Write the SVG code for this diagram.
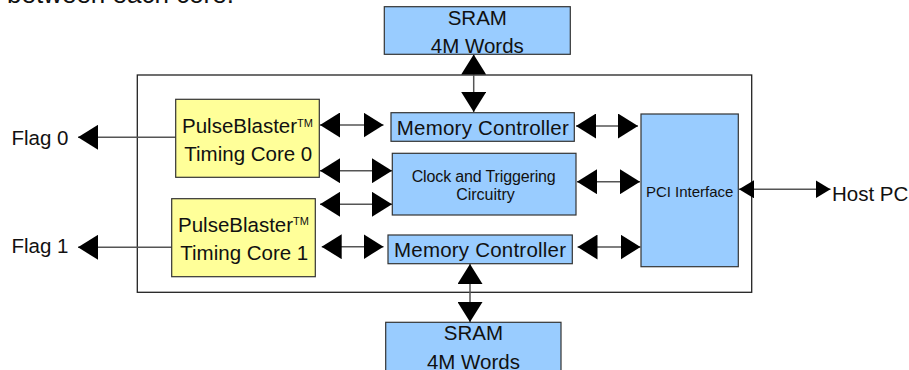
<svg xmlns="http://www.w3.org/2000/svg" width="909" height="370" viewBox="0 0 909 370">
<style>
  text { font-family: "Liberation Sans", Arial, sans-serif; fill: #111; }
  .blue { fill: #99ccff; stroke: #333; stroke-width: 1.2; }
  .yellow { fill: #ffff99; stroke: #333; stroke-width: 1.2; }
  .frame { fill: #fff; stroke: #222; stroke-width: 1.3; }
  .conn { stroke: #555; stroke-width: 1.5; fill: none; }
  .big { font-size: 20.5px; }
  .mid { font-size: 15px; }
  .tm { font-size: 11px; }
</style>
<defs>
  <marker id="ah" markerUnits="userSpaceOnUse" markerWidth="20" markerHeight="25" refX="20" refY="12.5" orient="auto-start-reverse" viewBox="0 0 20 25">
    <path d="M0,0 L20,12.5 L0,25 z" fill="#000"/>
  </marker>
  <marker id="ahs" markerUnits="userSpaceOnUse" markerWidth="15" markerHeight="18" refX="15" refY="9" orient="auto-start-reverse" viewBox="0 0 15 18">
    <path d="M0,0 L15,9 L0,18 z" fill="#000"/>
  </marker>
</defs>
<rect width="909" height="370" fill="#fff"/>
<text x="7" y="3.3" style="font-size:26px">between each core.</text>

<g id="frame"><rect class="frame" x="137.3" y="75" width="614.4" height="217.3"/></g>

<g id="connectors">
  <line class="conn" x1="473.7" y1="54.5" x2="473.7" y2="112" marker-start="url(#ah)" marker-end="url(#ah)"/>
  <line class="conn" x1="470" y1="264" x2="470" y2="322" marker-start="url(#ah)" marker-end="url(#ah)"/>
  <line class="conn" x1="78" y1="137.3" x2="176" y2="137.3" marker-start="url(#ah)"/>
  <line class="conn" x1="78" y1="247.3" x2="172" y2="247.3" marker-start="url(#ah)"/>
  <line class="conn" x1="320" y1="125" x2="383.5" y2="125" marker-start="url(#ah)" marker-end="url(#ah)"/>
  <line class="conn" x1="320" y1="170.7" x2="392" y2="170.7" marker-start="url(#ah)" marker-end="url(#ah)"/>
  <line class="conn" x1="320" y1="204.3" x2="392" y2="204.3" marker-start="url(#ah)" marker-end="url(#ah)"/>
  <line class="conn" x1="321.7" y1="246.7" x2="383.5" y2="246.7" marker-start="url(#ah)" marker-end="url(#ah)"/>
  <line class="conn" x1="576" y1="126" x2="638" y2="126" marker-start="url(#ah)" marker-end="url(#ah)"/>
  <line class="conn" x1="577" y1="181.7" x2="640" y2="181.7" marker-start="url(#ah)" marker-end="url(#ah)"/>
  <line class="conn" x1="577.5" y1="247" x2="640.5" y2="247" marker-start="url(#ah)" marker-end="url(#ah)"/>
  <line class="conn" x1="739" y1="189.3" x2="830.5" y2="189.3" marker-start="url(#ahs)" marker-end="url(#ahs)"/>
</g>

<g id="sram-top">
  <rect class="blue" x="384.3" y="6.7" width="186" height="47.6"/>
  <text class="big" x="477.3" y="25" text-anchor="middle">SRAM</text>
  <text class="big" x="477.3" y="52.5" text-anchor="middle">4M Words</text>
</g>
<g id="sram-bottom">
  <rect class="blue" x="385.7" y="322.3" width="175.3" height="52"/>
  <text class="big" x="473.4" y="340" text-anchor="middle">SRAM</text>
  <text class="big" x="473.4" y="368.5" text-anchor="middle">4M Words</text>
</g>
<g id="mem-top">
  <rect class="blue" x="391" y="112.7" width="183.3" height="28.6"/>
  <text class="big" x="482.8" y="135" text-anchor="middle" textLength="172">Memory Controller</text>
</g>
<g id="clock">
  <rect class="blue" x="392.3" y="153.3" width="183.7" height="61.7"/>
  <text x="483.7" y="181.5" text-anchor="middle" style="font-size:16px" textLength="144">Clock and Triggering</text>
  <text x="485.5" y="200" text-anchor="middle" style="font-size:16px">Circuitry</text>
</g>
<g id="mem-bottom">
  <rect class="blue" x="388" y="235" width="184.3" height="28.7"/>
  <text class="big" x="480" y="256.7" text-anchor="middle" textLength="172">Memory Controller</text>
</g>
<g id="pci">
  <rect class="blue" x="641" y="114" width="97.3" height="152.7"/>
  <text class="mid" x="689.7" y="196.5" text-anchor="middle">PCI Interface</text>
</g>
<g id="core0">
  <rect class="yellow" x="175.7" y="99.3" width="143.6" height="78"/>
  <text class="big" x="247.5" y="133.3" text-anchor="middle">PulseBlaster<tspan class="tm" dy="-6.3">TM</tspan></text>
  <text class="big" x="248.3" y="161" text-anchor="middle">Timing Core 0</text>
</g>
<g id="core1">
  <rect class="yellow" x="171.7" y="198.7" width="143.6" height="78"/>
  <text class="big" x="243.5" y="231.7" text-anchor="middle">PulseBlaster<tspan class="tm" dy="-6.3">TM</tspan></text>
  <text class="big" x="244.3" y="260" text-anchor="middle">Timing Core 1</text>
</g>
<g id="flag0"><text class="big" x="11.5" y="145">Flag 0</text></g>
<g id="flag1"><text class="big" x="11.5" y="253.3">Flag 1</text></g>
<g id="host"><text class="big" x="832" y="200.7">Host PC</text></g>
</svg>
